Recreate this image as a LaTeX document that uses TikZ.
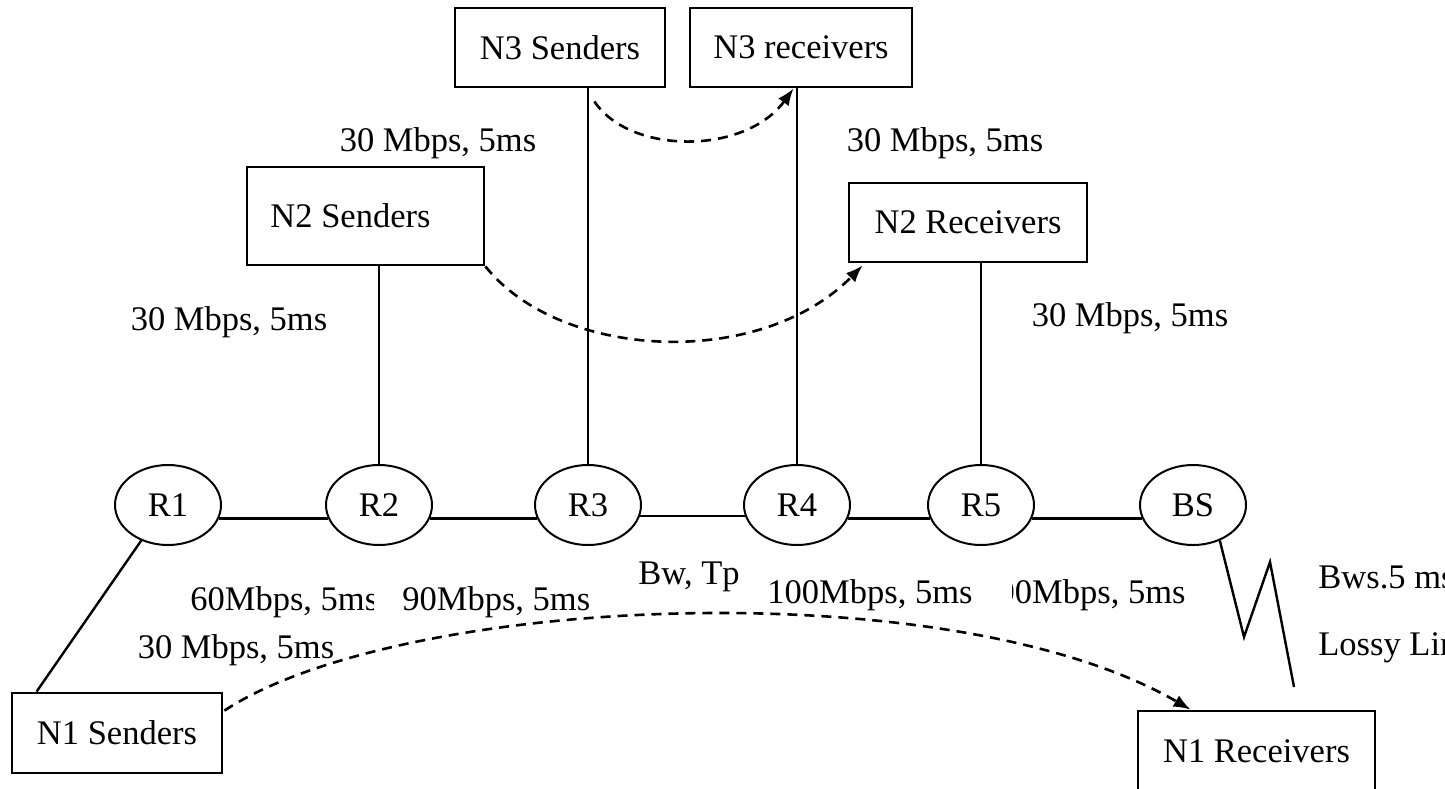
\documentclass[tikz,border=0pt]{standalone}
\usepackage{fontspec}
\setmainfont{Liberation Serif}
\usetikzlibrary{arrows.meta,calc,shapes.geometric}

\begin{document}
\begin{tikzpicture}[x=0.5pt, y=-0.5pt,
  font=\fontsize{17.25}{20}\selectfont,
  host/.style 2 args={draw, line width=1.4pt, minimum width=#1, minimum height=#2, inner sep=0pt},
  router/.style={draw, ellipse, line width=1pt, minimum width=53pt, minimum height=40pt, inner sep=0pt},
  link/.style={line width=1.2pt},
  flow/.style={line width=1.3pt, dash pattern=on 5pt off 3.5pt, -{Latex[length=8.5pt,width=6.5pt]}},
  lbl/.style={inner sep=0pt}]
\useasboundingbox (0,0) rectangle (1445,788);
% routers on the bottleneck path
\node[router] (R1) at (168,505) {R1};
\node[router] (R2) at (379,505) {R2};
\node[router] (R3) at (588,505) {R3};
\node[router] (R4) at (797,505) {R4};
\node[router] (R5) at (981,505) {R5};
\node[router] (BS) at (1193,505) {BS};
% senders and receivers
\node[host={105pt}{39.5pt}] (N3s) at (560,47.5) {N3 Senders};
\node[host={111pt}{39.5pt}] (N3r) at (801,47.5) {N3 receivers};
\node[host={118.5pt}{49pt}] (N2s) at (365.5,216) {N2 Senders\kern15pt};
\node[host={119pt}{39.5pt}] (N2r) at (968,222.5) {N2 Receivers};
\node[host={105pt}{40pt}] (N1s) at (117,733) {N1 Senders};
\node[host={118.5pt}{40pt}] (N1r) at (1256.5,751) {N1 Receivers};
% wired links
\draw[link] (R1.-15) -- (R2.195);
\draw[link] (R2.-15) -- (R3.195);
\draw[link] (R3.-12) -- (R4.192);
\draw[link] (R4.-15) -- (R5.195);
\draw[link] (R5.-15) -- (BS.195);
\draw[link] (R2) -- (R2 |- N2s.south);
\draw[link] (R3) -- (R3 |- N3s.south);
\draw[link] (R4) -- (R4 |- N3r.south);
\draw[link] (R5) -- (R5 |- N2r.south);
\draw[link] (R1.-127) -- ($(N1s.north west)+(26,0)$);
% wireless hop
\coordinate (bend1) at (1244,637);
\coordinate (bend2) at (1270,562);
\coordinate (lossend) at (1294,687);
\draw[link] (BS.-53) -- (bend1) -- (bend2) -- (lossend);
% link labels
\node[lbl] (bwN3s) at (438,143) {30 Mbps, 5ms};
\node[lbl] (bwN3r) at (945,143) {30 Mbps, 5ms};
\node[lbl] (bwN2s) at (229,322) {30 Mbps, 5ms};
\node[lbl] (bwN2r) at (1130,318) {30 Mbps, 5ms};
\node[lbl] (bwN1s) at (236,650) {30 Mbps, 5ms};
\node[lbl, anchor=west] (bw12) at (190,602) {60Mbps, 5ms};
\node[lbl, anchor=west, fill=white] (bw23) at (374,602) {\kern14pt90Mbps, 5ms};
\node[lbl] (bwtp) at (689,577) {Bw, Tp};
\node[lbl, anchor=west] (bw5b) at (980,595) {100Mbps, 5ms};
\node[lbl, anchor=east, fill=white] (bw45) at (1012,595) {100Mbps, 5ms\kern19.5pt};
\node[lbl, anchor=west] (bws) at (1318,577) {Bws.5 ms};
\node[lbl, anchor=west] (lossy) at (1318,647) {Lossy Link};
% flows
\draw[flow] ($(N3s.south east)+(-72,13)$) .. controls (630,155) and (745,155) .. ($(N3r.south west)+(105,0)$);
\draw[flow] (N2s.south east) .. controls (560,360) and (760,370) .. ($(N2r.south west)+(15,2)$);
\draw[flow] ($(N1s.north east)+(1,19)$) .. controls (400,595) and (950,570) .. ($(N1r.north west)+(54,0)$);
\end{tikzpicture}
\end{document}
